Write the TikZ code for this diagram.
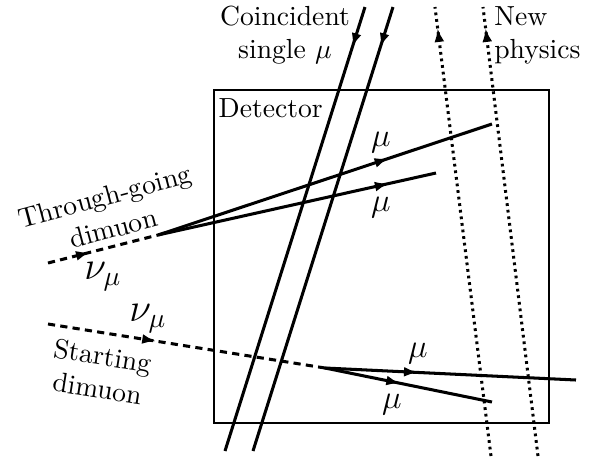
\documentclass[tikz,border=0pt]{standalone}
\usepackage{amsmath}
\usetikzlibrary{positioning, arrows.meta, decorations.markings}

\begin{document}
\begin{tikzpicture}[x=0.362pt, y=-0.362pt]
    % Define styles
    \tikzstyle{track} = [line width=1.1pt]
    \tikzstyle{nutrack} = [line width=1.1pt, dash pattern=on 2.6pt off 1.9pt]
    \tikzstyle{newtrack} = [line width=1.1pt, dash pattern=on 1pt off 1.4pt]
    \tikzstyle{detbox} = [line width=1pt]
    \tikzstyle{label} = [align=center, inner sep=1pt]
    \tikzset{midarrow/.style={postaction={decorate}, decoration={markings, mark=at position #1 with {\arrow{Latex[length=5pt, width=3.6pt]}}}}}

    \useasboundingbox (0,0) rectangle (595,456);

    % Points
    \coordinate (boxnw) at (214,90);
    \coordinate (boxse) at (549,423);
    \coordinate (tgin) at (48,263);
    \coordinate (tgvtx) at (158,235);
    \coordinate (tgmuup) at (492,124);
    \coordinate (tgmulow) at (436,173);
    \coordinate (stin) at (48,324);
    \coordinate (stvtx) at (325,368);
    \coordinate (stmuup) at (576,380);
    \coordinate (stmulow) at (492,402);
    \coordinate (csonetop) at (365,7);
    \coordinate (csonebot) at (225,451);
    \coordinate (cstwotop) at (393,7);
    \coordinate (cstwobot) at (253,451);
    \coordinate (nponebot) at (491,456);
    \coordinate (nponetop) at (435,7);
    \coordinate (nptwobot) at (538,456);
    \coordinate (nptwotop) at (483,7);

    % Nodes
    \draw [detbox] (boxnw) rectangle (boxse);
    \node (detector) [anchor=north west, inner xsep=1.5pt, inner ysep=3pt] at (boxnw) {Detector};
    \node (coincident) [label] at (285,35) {Coincident\\single $\mu$};
    \node (newphys) [anchor=west, align=left, inner sep=1pt] at (491,35) {New\\physics};
    \node (throughgoing) [label, rotate=15] at (109,212) {Through-going\\dimuon};
    \node (starting) [label, rotate=-9] at (100,372) {Starting\\dimuon};
    \node (tgnu) [label] at (103,277) {\Large $\nu_\mu$};
    \node (stnu) [label] at (148,319) {\Large $\nu_\mu$};
    \node (tgmuuplab) [label] at (381,143) {\large $\mu$};
    \node (tgmulowlab) [label] at (381,208) {\large $\mu$};
    \node (stmuuplab) [label] at (418,354) {\large $\mu$};
    \node (stmulowlab) [label] at (392,405) {\large $\mu$};

    % Arrows
    \draw [track, midarrow=0.09] (csonetop) -- (csonebot);
    \draw [track, midarrow=0.09] (cstwotop) -- (cstwobot);
    \draw [newtrack, midarrow=0.953] (nponebot) -- (nponetop);
    \draw [newtrack, midarrow=0.953] (nptwobot) -- (nptwotop);
    \draw [nutrack, midarrow=0.38] (tgin) -- (tgvtx);
    \draw [track, midarrow=0.69] (tgvtx) -- (tgmuup);
    \draw [track, midarrow=0.83] (tgvtx) -- (tgmulow);
    \draw [nutrack, midarrow=0.39] (stin) -- (stvtx);
    \draw [track, midarrow=0.37] (stvtx) -- (stmuup);
    \draw [track, midarrow=0.45] (stvtx) -- (stmulow);
\end{tikzpicture}
\end{document}
